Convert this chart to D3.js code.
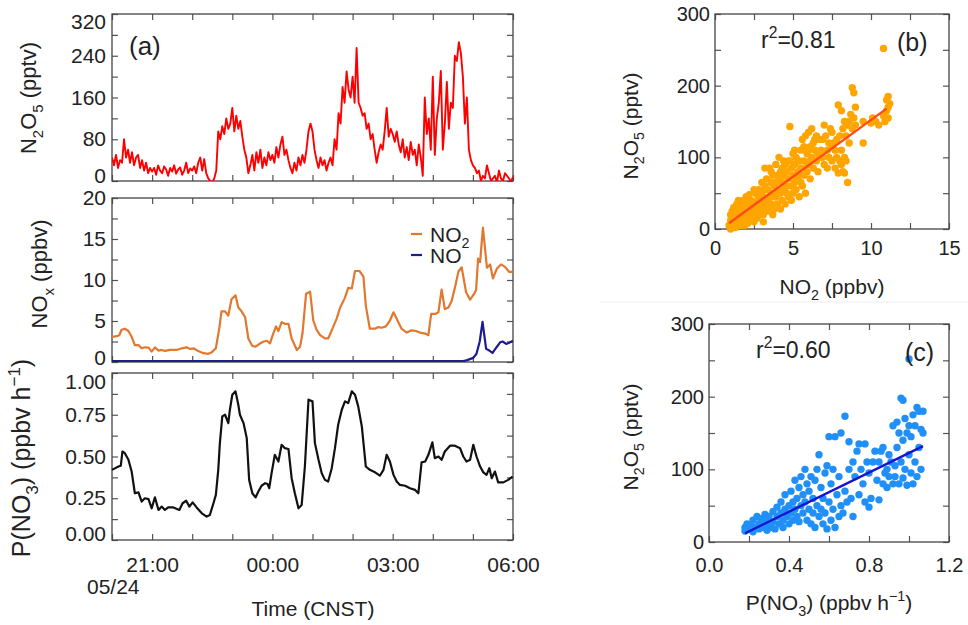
<!DOCTYPE html>
<html>
<head>
<meta charset="utf-8">
<script src="https://cdn.jsdelivr.net/npm/d3@7"></script>
<style>
  body { margin: 0; background: #fff; }
  text { font-family: 'Liberation Sans', Arial, Helvetica, sans-serif; fill: #222; }
</style>
</head>
<body>
<svg width="968" height="625"></svg>
<script>
// ---- data ----
// time is hours after 20:00 on 05/24
const hourTicks = [0, 1, 2, 3, 4, 5, 6, 7, 8, 9, 10];
const timeTickHours = [1, 4, 7, 10];
const timeTickLabels = ['21:00', '00:00', '03:00', '06:00'];

// N2O5 (pptv), one value every 3 minutes from 20:00
const n2o5StepHours = 0.05;
const n2o5Values = [
  45, 30, 50, 25, 40, 35, 80, 45, 60, 35, 55, 30, 45, 50, 25, 40, 20, 35, 15, 25,
  18, 25, 12, 30, 20, 15, 28, 22, 10, 25, 18, 30, 14, 22, 26, 12, 20, 35, 15, 24,
  20, 28, 15, 35, 45, 20, 42, 15, 5, 0, -3, 5, 20, 95, 80, 105, 90, 120, 100, 110,
  140, 95, 125, 100, 115, 85, 60, 45, 15, 30, 50, 20, 55, 35, 60, 25, 45, 30, 55, 40,
  50, 35, 65, 45, 70, 85, 50, 60, 40, 25, 15, 35, 20, 45, 30, 50, 35, 60, 95, 110,
  95, 60, 40, 25, 45, 30, 40, 20, 35, 45, 30, 80, 60, 130, 110, 180, 150, 210, 175, 160,
  200, 150, 255, 150, 140, 125, 130, 100, 110, 80, 90, 60, 35, 55, 70, 60, 95, 140, 85, 100,
  90, 75, 95, 70, 55, 80, 45, 65, 40, 75, 50, 60, 30, 70, 45, 10, 160, 90, 120, 60,
  200, 50, 120, 150, 211, 60, 110, 190, 100, 150, 140, 240, 230, 266, 245, 200, 110, 160, 60, 40,
  30, 25, 15, 20, 0, 10, 5, 30, 15, 0, 5, 10, -3, 20, 5, 0, 15, 10, 5, -2, 8
];

// NO2 (ppbv)
const no2Hours = [
  0.00, 0.12, 0.18, 0.24, 0.32, 0.41, 0.49, 0.57, 0.66, 0.74, 0.82, 0.91, 0.99, 1.07, 1.16, 1.24, 1.32, 1.45, 1.61, 1.74,
  1.86, 1.95, 2.03, 2.15, 2.28, 2.40, 2.49, 2.59, 2.68, 2.73, 2.82, 2.90, 2.98, 3.08, 3.15, 3.23, 3.32, 3.40, 3.50, 3.58,
  3.67, 3.77, 3.86, 3.94, 4.02, 4.09, 4.15, 4.23, 4.31, 4.40, 4.48, 4.61, 4.69, 4.75, 4.84, 4.94, 5.02, 5.10, 5.19, 5.31,
  5.39, 5.48, 5.60, 5.69, 5.81, 5.89, 5.98, 6.06, 6.17, 6.27, 6.33, 6.43, 6.56, 6.64, 6.72, 6.83, 6.93, 7.02, 7.12, 7.22,
  7.35, 7.47, 7.58, 7.68, 7.81, 7.89, 7.96, 8.06, 8.14, 8.22, 8.30, 8.39, 8.47, 8.55, 8.64, 8.72, 8.83, 8.93, 9.03, 9.08,
  9.13, 9.18, 9.25, 9.35, 9.43, 9.50, 9.60, 9.70, 9.80, 9.90, 10.0
];
const no2Values = [
  3.07, 3.15, 3.27, 3.94, 4.06, 3.78, 3.07, 2.07, 2.07, 1.67, 1.79, 1.75, 1.27, 1.79, 1.39, 1.47, 1.35, 1.47, 1.47, 1.67,
  1.79, 1.59, 1.67, 1.35, 1.08, 1.00, 1.20, 1.67, 4.26, 6.18, 6.18, 5.66, 7.65, 8.13, 6.65, 6.18, 5.46, 2.87, 1.95, 1.87,
  2.19, 2.47, 2.59, 2.27, 3.47, 4.34, 3.78, 4.86, 4.66, 4.66, 2.87, 1.47, 1.87, 3.47, 8.33, 8.57, 5.06, 3.94, 3.27, 2.87,
  2.87, 3.86, 5.26, 6.65, 7.85, 9.04, 8.96, 11.1, 11.1, 10.4, 6.85, 4.06, 4.06, 4.26, 4.18, 4.34, 5.06, 6.06, 5.06, 4.06,
  3.59, 3.86, 3.78, 3.59, 3.47, 3.27, 5.86, 5.86, 6.06, 8.84, 6.45, 6.65, 7.45, 9.04, 11.04, 11.55, 8.5, 7.6, 8.3, 8.8,
  12.6, 12.2, 16.4, 11.5, 11.9, 10.2, 11.4, 11.9, 11.6, 11.0, 11.0
];

// NO (ppbv)
const noHours = [0, 0.5, 1, 1.5, 2, 2.5, 3, 3.5, 4, 4.5, 5, 5.5, 6, 6.5, 7, 7.5, 8, 8.5, 8.76, 8.84,
  9.01, 9.09, 9.17, 9.24, 9.33, 9.41, 9.49, 9.59, 9.68, 9.74, 9.83, 9.93, 10.0];
const noValues = [0.1, 0.1, 0.1, 0.1, 0.1, 0.1, 0.1, 0.1, 0.1, 0.1, 0.1, 0.1, 0.1, 0.1, 0.1, 0.1, 0.1, 0.1, 0.1, 0.2,
  0.5, 1.0, 2.5, 4.9, 1.6, 1.4, 1.1, 1.8, 2.4, 2.5, 2.2, 2.4, 2.6];

// P(NO3) (ppbv h-1)
const pno3Hours = [
  0.00, 0.16, 0.22, 0.26, 0.32, 0.41, 0.49, 0.57, 0.66, 0.74, 0.82, 0.91, 0.99, 1.07, 1.16, 1.24, 1.32, 1.40, 1.53, 1.68,
  1.76, 1.85, 1.93, 2.01, 2.11, 2.24, 2.36, 2.44, 2.53, 2.59, 2.65, 2.69, 2.75, 2.82, 2.90, 2.94, 3.00, 3.08, 3.15, 3.19,
  3.28, 3.36, 3.42, 3.50, 3.58, 3.65, 3.73, 3.82, 3.88, 3.92, 3.98, 4.06, 4.15, 4.23, 4.31, 4.40, 4.48, 4.56, 4.65, 4.73,
  4.81, 4.90, 5.00, 5.06, 5.15, 5.23, 5.31, 5.39, 5.48, 5.56, 5.64, 5.73, 5.81, 5.89, 5.98, 6.06, 6.14, 6.23, 6.33, 6.43,
  6.56, 6.68, 6.77, 6.85, 6.93, 7.02, 7.10, 7.18, 7.31, 7.43, 7.56, 7.64, 7.72, 7.81, 7.89, 7.99, 8.05, 8.14, 8.22, 8.30,
  8.43, 8.55, 8.68, 8.76, 8.84, 8.93, 9.01, 9.09, 9.18, 9.26, 9.34, 9.41, 9.47, 9.55, 9.63, 9.76, 9.88, 9.99
];
const pno3Values = [
  0.42, 0.44, 0.445, 0.53, 0.52, 0.48, 0.41, 0.28, 0.285, 0.23, 0.25, 0.245, 0.19, 0.255, 0.18, 0.20, 0.18, 0.195, 0.195, 0.18,
  0.22, 0.235, 0.20, 0.225, 0.195, 0.16, 0.14, 0.15, 0.22, 0.27, 0.42, 0.58, 0.74, 0.75, 0.70, 0.78, 0.87, 0.89, 0.81, 0.75,
  0.70, 0.61, 0.36, 0.28, 0.255, 0.29, 0.325, 0.34, 0.335, 0.31, 0.40, 0.51, 0.47, 0.57, 0.55, 0.545, 0.37, 0.28, 0.19, 0.21,
  0.44, 0.84, 0.83, 0.58, 0.48, 0.40, 0.36, 0.35, 0.43, 0.55, 0.69, 0.78, 0.83, 0.82, 0.89, 0.87, 0.80, 0.68, 0.44, 0.42,
  0.405, 0.385, 0.42, 0.51, 0.47, 0.39, 0.35, 0.33, 0.325, 0.31, 0.30, 0.28, 0.465, 0.47, 0.51, 0.585, 0.49, 0.50, 0.48, 0.53,
  0.565, 0.565, 0.55, 0.50, 0.47, 0.48, 0.57, 0.50, 0.44, 0.405, 0.39, 0.43, 0.37, 0.41, 0.345, 0.345, 0.36, 0.38
];

// (b) N2O5 (pptv) against NO2 (ppbv)
const scatterNO2 = [
  [0.9,5],[1.0,12],[1.0,20],[1.0,0],[1.1,3],[1.1,25],[1.1,10],[1.2,8],[1.2,15],[1.2,30],[1.3,30],[1.3,2],[1.3,15],[1.4,18],
  [1.4,35],[1.4,5],[1.5,10],[1.5,25],[1.5,40],[1.6,5],[1.6,38],[1.6,22],[1.7,20],[1.7,12],[1.7,30],[1.8,28],[1.8,40],[1.8,8],
  [1.9,15],[1.9,32],[1.9,5],[2.0,22],[2.0,45],[2.0,30],[2.1,8],[2.1,35],[2.1,18],[2.2,28],[2.2,48],[2.2,20],[2.3,18],[2.3,40],
  [2.3,30],[2.4,30],[2.4,12],[2.5,55],[2.5,22],[2.5,10],[2.6,38],[2.6,25],[2.6,50],[2.7,15],[2.7,48],[2.8,30],[2.8,55],[2.8,20],
  [2.9,42],[2.9,25],[3.0,35],[3.0,52],[3.0,20],[3.0,65],[3.1,20],[3.1,45],[3.1,10],[3.2,60],[3.2,30],[3.2,85],[3.3,40],[3.3,70],
  [3.3,55],[3.4,25],[3.4,55],[3.4,38],[3.5,45],[3.5,85],[3.5,30],[3.6,35],[3.6,65],[3.6,80],[3.7,50],[3.7,75],[3.7,20],[3.8,28],
  [3.8,60],[3.8,45],[3.9,45],[3.9,90],[3.9,65],[4.0,55],[4.0,35],[4.0,75],[4.1,70],[4.1,100],[4.1,50],[4.2,50],[4.2,80],[4.2,28],
  [4.3,40],[4.3,65],[4.3,85],[4.4,75],[4.4,55],[4.4,95],[4.5,90],[4.5,35],[4.5,60],[4.6,60],[4.6,80],[4.6,50],[4.7,45],[4.7,70],
  [4.7,95],[4.8,143],[4.8,95],[4.9,60],[4.9,85],[4.9,40],[5.0,50],[5.0,75],[5.0,105],[5.1,90],[5.1,65],[5.1,110],[5.2,100],
  [5.2,55],[5.3,80],[5.3,70],[5.3,95],[5.4,95],[5.4,45],[5.4,75],[5.5,85],[5.5,110],[5.5,65],[5.6,60],[5.6,125],[5.7,75],[5.7,95],
  [5.7,115],[5.8,130],[5.8,50],[5.9,105],[5.9,80],[5.9,90],[6.0,135],[6.0,90],[6.0,110],[6.1,70],[6.1,115],[6.1,95],[6.2,100],
  [6.2,140],[6.3,85],[6.3,120],[6.4,110],[6.4,125],[6.5,95],[6.5,130],[6.6,105],[6.6,80],[6.7,125],[6.7,100],[6.8,110],[6.9,100],
  [6.9,125],[7.0,145],[7.0,90],[7.1,130],[7.2,110],[7.2,85],[7.3,100],[7.3,120],[7.4,140],[7.5,115],[7.5,95],[7.5,135],[7.6,120],
  [7.7,85],[7.7,110],[7.8,125],[7.8,100],[7.9,173],[7.9,78],[8.0,95],[8.0,130],[8.1,90],[8.1,165],[8.1,110],[8.2,140],[8.2,80],
  [8.3,78],[8.3,150],[8.3,100],[8.4,95],[8.4,130],[8.5,65],[8.5,145],[8.6,150],[8.6,120],[8.7,160],[8.8,197],[8.8,140],[8.9,190],
  [8.9,155],[9.0,170],[9.0,145],[9.5,120],[9.5,150],[10.0,148],[10.1,155],[10.3,150],[10.5,145],[10.8,252],[10.8,158],[10.9,150],
  [11.0,165],[11.0,180],[11.1,185],[11.1,170],[11.1,155],[11.2,175]
];
const fitNO2 = { slope: 15.84, intercept: -6.26, xFrom: 0.9, xTo: 11.0 };
const r2NO2 = '0.81';

// (c) N2O5 (pptv) against P(NO3) (ppbv h-1)
const scatterPNO3 = [
  [0.18,20],[0.18,15],[0.19,25],[0.2,18],[0.21,22],[0.22,30],[0.22,14],[0.23,20],[0.24,35],[0.25,25],[0.25,18],[0.26,32],
  [0.27,20],[0.28,28],[0.28,38],[0.29,16],[0.3,25],[0.3,35],[0.31,20],[0.32,42],[0.32,28],[0.33,18],[0.34,35],[0.34,48],
  [0.35,25],[0.36,40],[0.36,55],[0.37,30],[0.37,20],[0.38,45],[0.38,65],[0.39,35],[0.4,50],[0.4,25],[0.41,70],[0.41,40],
  [0.42,30],[0.42,55],[0.43,85],[0.43,45],[0.44,60],[0.44,35],[0.45,75],[0.45,28],[0.46,50],[0.46,90],[0.47,40],[0.47,65],
  [0.48,100],[0.48,55],[0.49,30],[0.49,80],[0.5,45],[0.5,70],[0.51,90],[0.51,25],[0.52,60],[0.52,40],[0.53,85],[0.53,20],
  [0.54,50],[0.54,100],[0.55,35],[0.55,120],[0.56,45],[0.56,75],[0.57,25],[0.57,60],[0.58,95],[0.58,40],[0.59,105],[0.59,18],
  [0.6,55],[0.6,145],[0.61,30],[0.61,80],[0.62,100],[0.62,45],[0.63,145],[0.63,20],[0.64,65],[0.65,90],[0.65,35],[0.66,50],
  [0.66,150],[0.67,40],[0.68,173],[0.68,70],[0.69,55],[0.7,138],[0.7,100],[0.71,60],[0.72,35],[0.72,110],[0.73,90],[0.74,125],
  [0.75,135],[0.75,65],[0.76,100],[0.77,80],[0.78,55],[0.78,135],[0.79,110],[0.8,48],[0.8,95],[0.81,60],[0.82,110],[0.83,125],
  [0.84,85],[0.85,58],[0.85,110],[0.86,125],[0.87,130],[0.87,80],[0.88,95],[0.89,100],[0.89,75],[0.9,120],[0.9,90],[0.91,110],
  [0.92,80],[0.92,160],[0.93,105],[0.93,90],[0.94,165],[0.94,130],[0.95,80],[0.95,150],[0.96,110],[0.96,198],[0.97,195],
  [0.97,140],[0.97,88],[0.98,170],[0.98,100],[0.99,78],[0.99,150],[1.0,252],[1.0,120],[1.0,160],[1.01,95],[1.01,145],[1.02,175],
  [1.02,80],[1.03,160],[1.03,110],[1.04,185],[1.04,90],[1.05,180],[1.05,130],[1.06,155],[1.06,100],[1.07,150],[1.07,180]
];
const fitPNO3 = { slope: 134.8, intercept: -12.3, xFrom: 0.18, xTo: 1.07 };
const r2PNO3 = '0.60';

// ---- drawing ----
const svg = d3.select('svg');
const TK = 6;

// text with sub/superscripts: parts = [[text, 'sub'|'sup'|''], ...]
function richText(t, parts, fs) {
  let shift = 0;
  parts.forEach(([s, kind]) => {
    const sp = t.append('tspan').text(s);
    let target = 0;
    if (kind === 'sub') target = fs * 0.3;
    if (kind === 'sup') target = -fs * 0.42;
    sp.attr('dy', target - shift);
    if (kind) sp.attr('font-size', fs * 0.68);
    shift = target;
  });
  return t;
}

function styleAxis(a, fs) {
  a.select('.domain').remove();
  a.attr('font-size', fs).attr('font-family', null);
  a.selectAll('line').attr('stroke', '#555').attr('stroke-width', 1.2);
  a.selectAll('text').attr('fill', '#222');
}

function panelFrame(x, y, o) {
  const g = svg.append('g');
  const [xl, xr] = x.range(), [yb, yt] = y.range();
  const fs = o.fs;
  // left, labelled
  g.append('g').attr('transform', `translate(${xl},0)`)
    .call(d3.axisLeft(y).tickValues(o.yMajor).tickFormat(o.yFmt).tickSizeInner(-TK).tickSizeOuter(0).tickPadding(o.yPad))
    .call(a => styleAxis(a, fs));
  g.append('g').attr('transform', `translate(${xl},0)`)
    .call(d3.axisLeft(y).tickValues(o.yMinor).tickFormat('').tickSizeInner(-TK).tickSizeOuter(0))
    .call(a => styleAxis(a, fs));
  // right
  g.append('g').attr('transform', `translate(${xr},0)`)
    .call(d3.axisRight(y).tickValues(o.yMajor.concat(o.yMinor)).tickFormat('').tickSizeInner(-TK).tickSizeOuter(0))
    .call(a => styleAxis(a, fs));
  // bottom
  g.append('g').attr('transform', `translate(0,${yb})`)
    .call(d3.axisBottom(x).tickValues(o.xMajor).tickFormat(o.xFmt || '').tickSizeInner(-TK).tickSizeOuter(0).tickPadding(o.xPad || 3))
    .call(a => styleAxis(a, fs));
  if (o.xMinor) g.append('g').attr('transform', `translate(0,${yb})`)
    .call(d3.axisBottom(x).tickValues(o.xMinor).tickFormat('').tickSizeInner(-TK).tickSizeOuter(0))
    .call(a => styleAxis(a, fs));
  // top
  g.append('g').attr('transform', `translate(0,${yt})`)
    .call(d3.axisTop(x).tickValues(o.xMajor.concat(o.xMinor || [])).tickFormat('').tickSizeInner(-TK).tickSizeOuter(0))
    .call(a => styleAxis(a, fs));
  g.append('rect').attr('x', xl).attr('y', yt).attr('width', xr - xl).attr('height', yb - yt)
    .attr('fill', 'none').attr('stroke', '#444').attr('stroke-width', 1.3);
  return g;
}

// pull the lowest / highest y labels inside the frame height
function nudgeEnds(g, down, up) {
  const labels = g.select('g').selectAll('.tick text');
  const n = labels.size();
  labels.each(function (d, i) {
    if (i === 0 && up) d3.select(this).attr('transform', `translate(0,${-up})`);
    if (i === n - 1 && down) d3.select(this).attr('transform', `translate(0,${down})`);
  });
}

function clipTo(id, x, y) {
  const [xl, xr] = x.range(), [yb, yt] = y.range();
  svg.append('clipPath').attr('id', id).append('rect')
    .attr('x', xl).attr('y', yt).attr('width', xr - xl).attr('height', yb - yt);
}

function yTitle(bx, cy, parts, fs) {
  const t = svg.append('text').attr('transform', `translate(${bx},${cy}) rotate(-90)`)
    .attr('text-anchor', 'middle').attr('font-size', fs);
  richText(t, parts, fs);
}

// ---------- panel (a) ----------
const hourX = d3.scaleLinear().domain([0, 10]).range([112, 513]);
const y1 = d3.scaleLinear().domain([0, 320]).range([181, 14]);
const y2 = d3.scaleLinear().domain([0, 20]).range([362, 198]);
const y3 = d3.scaleLinear().domain([0, 1]).range([540, 373]);
const AFS = 21;

const g1 = panelFrame(hourX, y1, { fs: AFS, yMajor: [0, 80, 160, 240, 320], yMinor: [40, 120, 200, 280],
  yFmt: d3.format('d'), yPad: 6, xMajor: hourTicks });
nudgeEnds(g1, 8, 5);
const g2 = panelFrame(hourX, y2, { fs: AFS, yMajor: [0, 5, 10, 15, 20], yMinor: [2.5, 7.5, 12.5, 17.5],
  yFmt: d3.format('d'), yPad: 6, xMajor: hourTicks });
nudgeEnds(g2, 0, 4);
const g3 = panelFrame(hourX, y3, { fs: AFS, yMajor: [0, 0.25, 0.5, 0.75, 1], yMinor: [0.125, 0.375, 0.625, 0.875],
  yFmt: d3.format('.2f'), yPad: 6, xMajor: hourTicks, xPad: 17,
  xFmt: h => { const k = timeTickHours.indexOf(h); return k < 0 ? '' : timeTickLabels[k]; } });
nudgeEnds(g3, 9, 6);

clipTo('clipA1', hourX, y1);
clipTo('clipA2', hourX, y2);

svg.append('path').attr('clip-path', 'url(#clipA1)')
  .datum(n2o5Values)
  .attr('d', d3.line().x((d, i) => hourX(i * n2o5StepHours)).y(d => y1(d)))
  .attr('fill', 'none').attr('stroke', '#ff0000').attr('stroke-width', 1.9).attr('stroke-linejoin', 'round');

svg.append('path').attr('clip-path', 'url(#clipA2)')
  .datum(noHours.map((h, i) => [h, noValues[i]]))
  .attr('d', d3.line().x(d => hourX(d[0])).y(d => y2(d[1])))
  .attr('fill', 'none').attr('stroke', '#1c1c8e').attr('stroke-width', 2.2).attr('stroke-linejoin', 'round');

svg.append('path').attr('clip-path', 'url(#clipA2)')
  .datum(no2Hours.map((h, i) => [h, no2Values[i]]))
  .attr('d', d3.line().x(d => hourX(d[0])).y(d => y2(d[1])))
  .attr('fill', 'none').attr('stroke', '#e2772f').attr('stroke-width', 2.2).attr('stroke-linejoin', 'round');

svg.append('path')
  .datum(pno3Hours.map((h, i) => [h, pno3Values[i]]))
  .attr('d', d3.line().x(d => hourX(d[0])).y(d => y3(d[1])))
  .attr('fill', 'none').attr('stroke', '#111').attr('stroke-width', 2.2).attr('stroke-linejoin', 'round');

// legend in NOx panel
[[234, '#e2772f', [['NO', ''], ['2', 'sub']]], [255, '#1c1c8e', [['NO', '']]]].forEach(([ly, c, parts]) => {
  svg.append('line').attr('x1', 411).attr('x2', 422).attr('y1', ly).attr('y2', ly)
    .attr('stroke', c).attr('stroke-width', 2.2);
  const t = svg.append('text').attr('x', 430).attr('y', ly + 7.5).attr('font-size', AFS);
  richText(t, parts, AFS);
});

svg.append('text').attr('x', 129).attr('y', 55).attr('font-size', 26).text('(a)');

yTitle(36, 98, [['N', ''], ['2', 'sub'], ['O', ''], ['5', 'sub'], [' (pptv)', '']], 22);
yTitle(47, 274, [['NO', ''], ['x', 'sub'], [' (ppbv)', '']], 22);
yTitle(30, 458, [['P(NO', ''], ['3', 'sub'], [') (ppbv h', ''], ['\u22121', 'sup'], [')', '']], 25);

svg.append('text').attr('x', 87).attr('y', 594).attr('font-size', AFS).text('05/24');
svg.append('text').attr('x', 313).attr('y', 616).attr('text-anchor', 'middle').attr('font-size', AFS).text('Time (CNST)');

// ---------- panel (b) ----------
const RFS = 20;
const xb = d3.scaleLinear().domain([0, 15]).range([715, 949]);
const yb = d3.scaleLinear().domain([0, 300]).range([229, 14]);
panelFrame(xb, yb, { fs: RFS, yMajor: [0, 100, 200, 300], yMinor: [50, 150, 250], yFmt: d3.format('d'), yPad: 5,
  xMajor: [0, 5, 10, 15], xMinor: [2.5, 7.5, 12.5], xFmt: d3.format('d'), xPad: 12 });

svg.append('g').selectAll('circle').data(scatterNO2).join('circle')
  .attr('cx', d => xb(d[0])).attr('cy', d => yb(d[1])).attr('r', 3.7).attr('fill', '#ffa500');
svg.append('line')
  .attr('x1', xb(fitNO2.xFrom)).attr('y1', yb(fitNO2.slope * fitNO2.xFrom + fitNO2.intercept))
  .attr('x2', xb(fitNO2.xTo)).attr('y2', yb(fitNO2.slope * fitNO2.xTo + fitNO2.intercept))
  .attr('stroke', '#ff4a1c').attr('stroke-width', 2.4);

richText(svg.append('text').attr('x', 761).attr('y', 48).attr('font-size', 23),
  [['r', ''], ['2', 'sup'], ['=' + r2NO2, '']], 23);
svg.append('text').attr('x', 897).attr('y', 51).attr('font-size', 25).text('(b)');
yTitle(638, 126, [['N', ''], ['2', 'sub'], ['O', ''], ['5', 'sub'], [' (pptv)', '']], 21);
richText(svg.append('text').attr('x', 832).attr('y', 294).attr('text-anchor', 'middle').attr('font-size', 21),
  [['NO', ''], ['2', 'sub'], [' (ppbv)', '']], 21);

// faint separator between (b) and (c)
svg.append('line').attr('x1', 600).attr('x2', 968).attr('y1', 302).attr('y2', 302)
  .attr('stroke', '#eeeeee').attr('stroke-width', 1);

// ---------- panel (c) ----------
const xc = d3.scaleLinear().domain([0, 1.2]).range([709, 949]);
const yc = d3.scaleLinear().domain([0, 300]).range([542, 324]);
panelFrame(xc, yc, { fs: RFS, yMajor: [0, 100, 200, 300], yMinor: [50, 150, 250], yFmt: d3.format('d'), yPad: 5,
  xMajor: [0, 0.4, 0.8, 1.2], xMinor: [0.2, 0.6, 1.0], xFmt: d3.format('.1f'), xPad: 16 });

svg.append('g').selectAll('circle').data(scatterPNO3).join('circle')
  .attr('cx', d => xc(d[0])).attr('cy', d => yc(d[1])).attr('r', 3.7).attr('fill', '#2090f8');
svg.append('line')
  .attr('x1', xc(fitPNO3.xFrom)).attr('y1', yc(fitPNO3.slope * fitPNO3.xFrom + fitPNO3.intercept))
  .attr('x2', xc(fitPNO3.xTo)).attr('y2', yc(fitPNO3.slope * fitPNO3.xTo + fitPNO3.intercept))
  .attr('stroke', '#1414d2').attr('stroke-width', 2.4);

richText(svg.append('text').attr('x', 756).attr('y', 358).attr('font-size', 23),
  [['r', ''], ['2', 'sup'], ['=' + r2PNO3, '']], 23);
svg.append('text').attr('x', 905).attr('y', 361).attr('font-size', 25).text('(c)');
yTitle(638, 437, [['N', ''], ['2', 'sub'], ['O', ''], ['5', 'sub'], [' (pptv)', '']], 21);
richText(svg.append('text').attr('x', 829).attr('y', 610).attr('text-anchor', 'middle').attr('font-size', 21),
  [['P(NO', ''], ['3', 'sub'], [') (ppbv h', ''], ['\u22121', 'sup'], [')', '']], 21);
</script>
</body>
</html>
